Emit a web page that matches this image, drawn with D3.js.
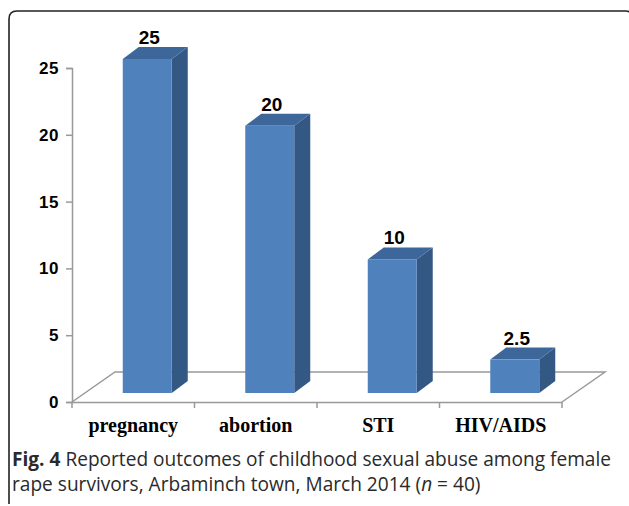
<!DOCTYPE html>
<html>
<head>
<meta charset="utf-8">
<script src="https://cdnjs.cloudflare.com/ajax/libs/d3/7.8.5/d3.min.js"></script>
<style>
  body { margin: 0; background: #fff; }
</style>
</head>
<body>
<div id="chart-area"></div>
<script>
// values
var categories = ["pregnancy", "abortion", "STI", "HIV/AIDS"];
var values = [25, 20, 10, 2.5];
var yTicks = [0, 5, 10, 15, 20, 25];

var width = 629;
var height = 506;

var svg = d3.select("#chart-area")
  .append("svg")
  .attr("width", width)
  .attr("height", height);

// rounded frame, open at the bottom (cropped figure)
svg.append("path")
  .attr("d", "M9,504 L9,19 Q9,11 17,11 L626,11 Q630,11 632,15")
  .attr("fill", "none")
  .attr("stroke", "#222")
  .attr("stroke-width", 1.6);

var x = d3.scaleBand()
  .domain(categories)
  .range([72, 562]);

var y = d3.scaleLinear()
  .domain([0, 25])
  .range([402, 68]);

var floor = { dx: 43, dy: -30 };   // depth of the floor
var shift = { dx: 14, dy: -9 };    // bars sit inside the floor depth
var depth = { dx: 16, dy: -12 };   // depth of each bar
var barW = 49;

var axisColor = "#999";

// floor
var x0 = x.range()[0], x1 = x.range()[1], y0 = y(0);
svg.append("path")
  .attr("d", `M${x0},${y0} L${x0 + floor.dx},${y0 + floor.dy} L${x1 + floor.dx},${y0 + floor.dy} L${x1},${y0}`)
  .attr("fill", "none")
  .attr("stroke", axisColor)
  .attr("stroke-width", 1.5);

// y axis
var yAxis = d3.axisLeft(y)
  .tickValues(yTicks)
  .tickSize(6)
  .tickPadding(7);

var yAxisGroup = svg.append("g")
  .attr("transform", `translate(${x0}, 0)`)
  .call(yAxis);
yAxisGroup.select(".domain").attr("stroke", axisColor).attr("stroke-width", 1.5);
yAxisGroup.selectAll(".tick line").attr("stroke", axisColor).attr("stroke-width", 1.5);
yAxisGroup.selectAll(".tick text")
  .attr("font-family", "Liberation Sans, Arial, sans-serif")
  .attr("font-weight", "bold")
  .attr("font-size", "17px")
  .attr("letter-spacing", "0.5px")
  .attr("fill", "#000");

// x axis: front floor line, labels at band centres
var xAxis = d3.axisBottom(x)
  .tickSize(0)
  .tickPadding(16);

var xAxisGroup = svg.append("g")
  .attr("transform", `translate(0, ${y0})`)
  .call(xAxis);
xAxisGroup.select(".domain").attr("stroke", axisColor).attr("stroke-width", 1.5);
xAxisGroup.selectAll(".tick text")
  .attr("font-family", "Liberation Serif, Times New Roman, serif")
  .attr("font-weight", "bold")
  .attr("font-size", "20px")
  .attr("fill", "#000");

// tick marks between categories
var bounds = categories.map(c => x(c)).concat([x1]);
svg.selectAll(".xtick")
  .data(bounds)
  .enter()
  .append("line")
  .attr("class", "xtick")
  .attr("x1", d => d)
  .attr("x2", d => d)
  .attr("y1", y0)
  .attr("y2", y0 + 6)
  .attr("stroke", axisColor)
  .attr("stroke-width", 1.5);

// 3D bars
var bars = svg.selectAll(".bar")
  .data(values)
  .enter()
  .append("g")
  .attr("class", "bar");

function barLeft(i) {
  return x(categories[i]) + x.bandwidth() / 2 + shift.dx - barW / 2;
}

// side face
bars.append("path")
  .attr("d", (d, i) => {
    var r = barLeft(i) + barW;
    var t = y(d) + shift.dy, b = y(0) + shift.dy;
    return `M${r},${b} L${r + depth.dx},${b + depth.dy} L${r + depth.dx},${t + depth.dy} L${r},${t} Z`;
  })
  .attr("fill", "#345884");

// top face
bars.append("path")
  .attr("d", (d, i) => {
    var l = barLeft(i);
    var r = l + barW;
    var t = y(d) + shift.dy;
    return `M${l},${t} L${l + depth.dx},${t + depth.dy} L${r + depth.dx},${t + depth.dy} L${r},${t} Z`;
  })
  .attr("fill", "#3d679b");

// front face
bars.append("rect")
  .attr("x", (d, i) => barLeft(i))
  .attr("y", d => y(d) + shift.dy)
  .attr("width", barW)
  .attr("height", d => y(0) - y(d))
  .attr("fill", "#4f81bd");

// value labels
bars.append("text")
  .attr("x", (d, i) => barLeft(i) + barW / 2 + 2)
  .attr("y", d => y(d) + shift.dy + depth.dy - 3)
  .attr("text-anchor", "middle")
  .attr("font-family", "Liberation Sans, Arial, sans-serif")
  .attr("font-weight", "bold")
  .attr("font-size", "19px")
  .attr("fill", "#000")
  .text(d => d);

// caption
var caption = svg.append("text")
  .attr("font-family", "Open Sans, sans-serif")
  .attr("font-size", "19.1px")
  .attr("fill", "#2a2a2a");

var line1 = caption.append("tspan").attr("x", 12).attr("y", 466);
line1.append("tspan").attr("font-weight", "bold").text("Fig. 4");
line1.append("tspan").text(" Reported outcomes of childhood sexual abuse among female");

var line2 = caption.append("tspan").attr("x", 12).attr("y", 491);
line2.append("tspan").text("rape survivors, Arbaminch town, March 2014 (");
line2.append("tspan").attr("font-style", "italic").text("n");
line2.append("tspan").text(" = 40)");
</script>
</body>
</html>
